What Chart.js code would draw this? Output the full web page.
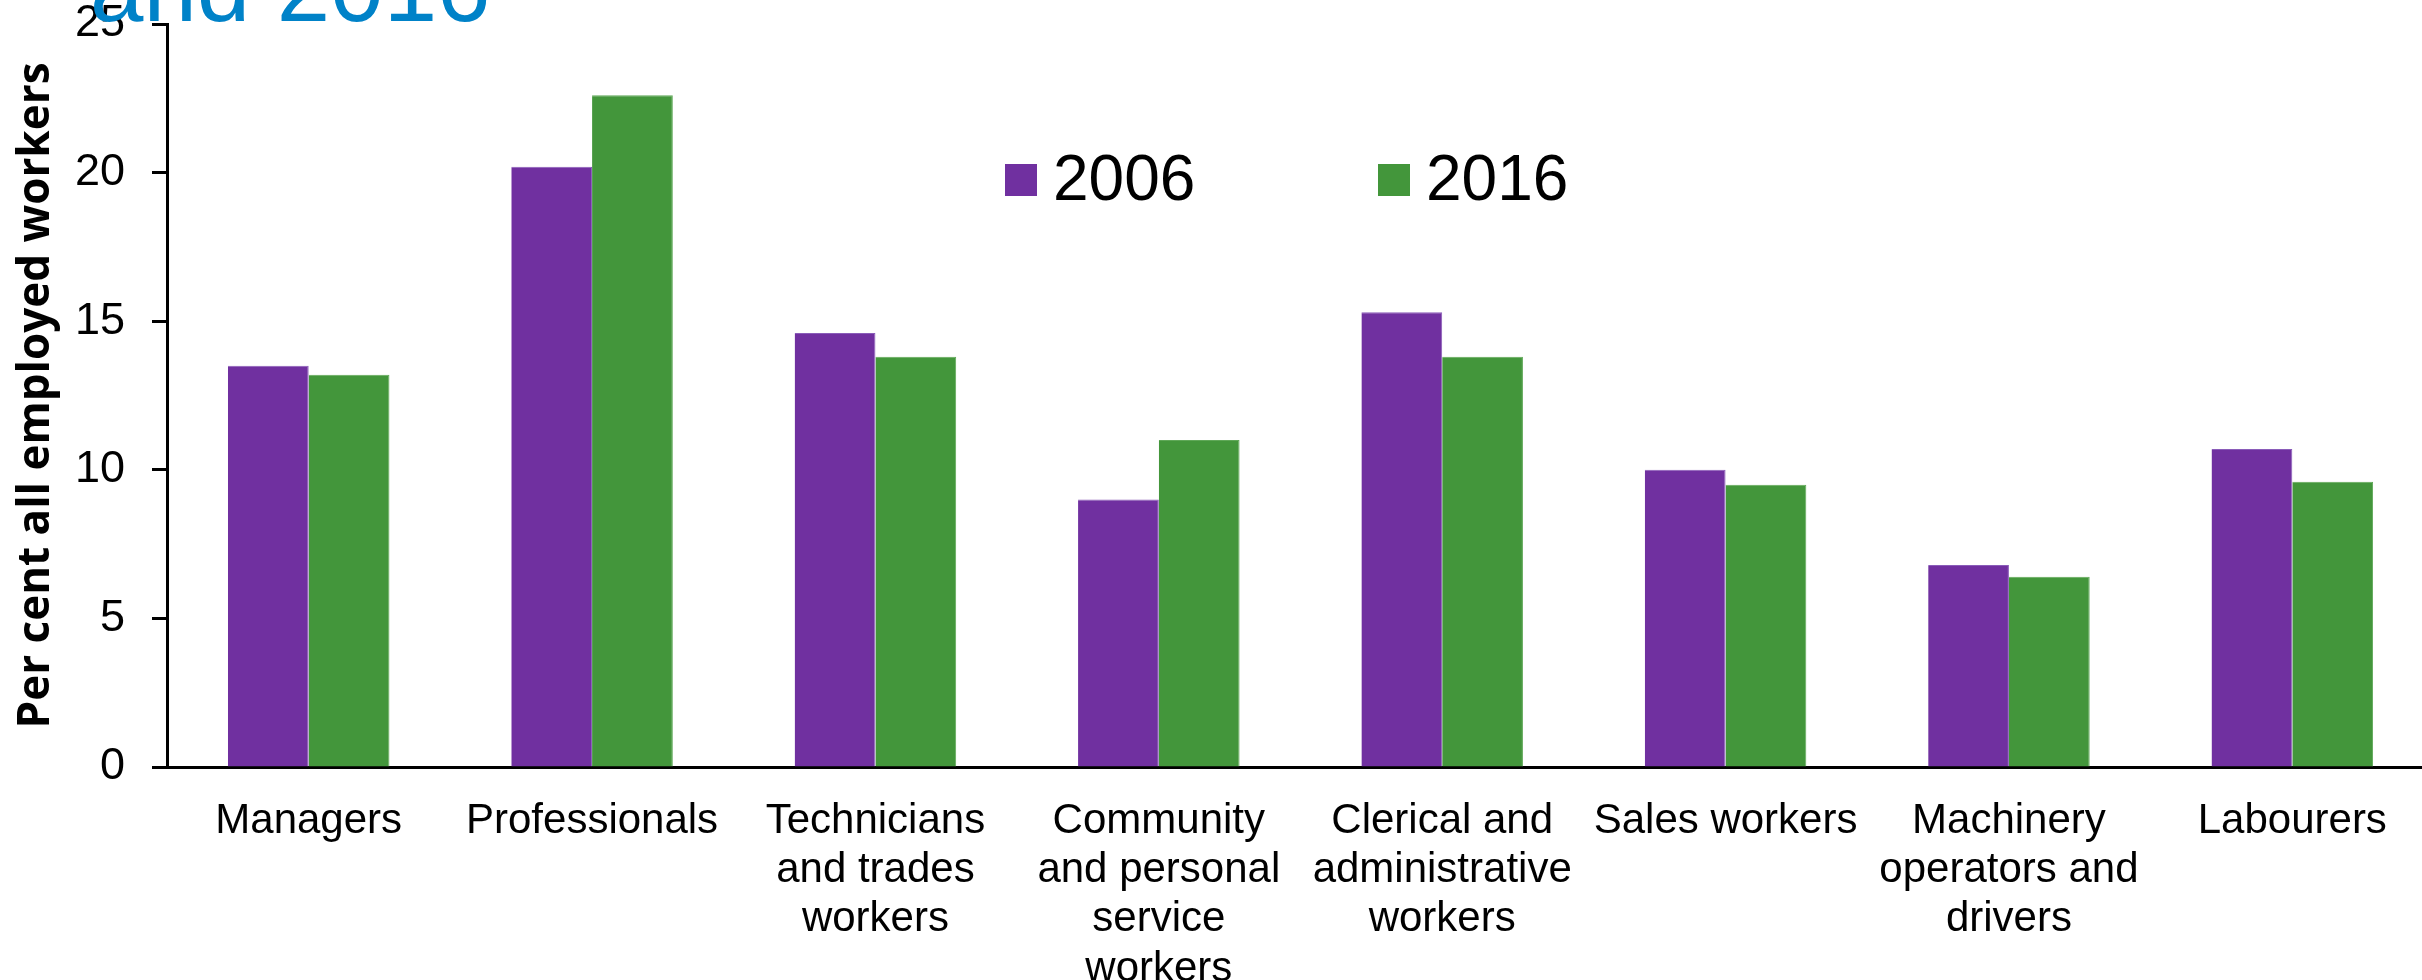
<!DOCTYPE html>
<html>
<head>
<meta charset="utf-8">
<script src="https://cdn.jsdelivr.net/npm/chart.js@4.4.1/dist/chart.umd.min.js"></script>
<style>
  html, body { margin: 0; padding: 0; background: #fff; overflow: hidden; }
  #wrap { width: 2434px; height: 980px; }
</style>
</head>
<body>
<div id="wrap"><canvas id="chart" width="2434" height="980"></canvas></div>
<script>
// occupation groups, share of all employed workers (%)
const categories = [
  'Managers',
  'Professionals',
  ['Technicians', 'and trades', 'workers'],
  ['Community', 'and personal', 'service', 'workers'],
  ['Clerical and', 'administrative', 'workers'],
  'Sales workers',
  ['Machinery', 'operators and', 'drivers'],
  'Labourers'
];
const years = ['2006', '2016'];
const share2006 = [13.5, 20.2, 14.6, 9.0, 15.3, 10.0, 6.8, 10.7];
const share2016 = [13.2, 22.6, 13.8, 11.0, 13.8, 9.5, 6.4, 9.6];
const yTicks = [0, 5, 10, 15, 20, 25];
const colours = ['#7030A0', '#43963B'];
const edges = ['#8A5CB9', '#5FA857'];

const SANS = '"Liberation Sans", Arial, sans-serif';

// the tail end of the slide heading, which runs off the top edge
const headingTail = {
  id: 'headingTail',
  afterDraw(chart) {
    const ctx = chart.ctx;
    ctx.save();
    ctx.font = '96px ' + SANS;
    ctx.fillStyle = '#0082C8';
    ctx.textBaseline = 'alphabetic';
    ctx.fillText('and 2016', 90, 21);
    ctx.restore();
  }
};

// legend sits inside the plot, to the right of the tallest bars
const floatingLegend = {
  id: 'floatingLegend',
  afterDraw(chart) {
    const ctx = chart.ctx;
    const spots = [1005, 1378];
    ctx.save();
    ctx.font = '64px ' + SANS;
    ctx.textBaseline = 'middle';
    chart.data.datasets.forEach((ds, i) => {
      const x = spots[i];
      ctx.fillStyle = ds.backgroundColor;
      ctx.fillRect(x, 164, 32, 32);
      ctx.fillStyle = '#000';
      ctx.fillText(ds.label, x + 48, 182);
    });
    ctx.restore();
  }
};

new Chart(document.getElementById('chart'), {
  type: 'bar',
  data: {
    labels: categories,
    datasets: [
      { label: years[0], data: share2006, backgroundColor: colours[0], borderColor: edges[0] },
      { label: years[1], data: share2016, backgroundColor: colours[1], borderColor: edges[1] }
    ]
  },
  options: {
    responsive: false,
    animation: false,
    layout: { padding: { top: 24, left: 0, right: 0, bottom: 0 } },
    datasets: {
      bar: {
        categoryPercentage: 0.57,
        barPercentage: 1.0,
        borderWidth: { top: 1, right: 1, left: 0, bottom: 0 }
      }
    },
    plugins: {
      legend: { display: false },
      tooltip: { enabled: false }
    },
    scales: {
      x: {
        afterFit(scale) { scale.height = 213; },
        grid: { display: true, drawOnChartArea: false, drawTicks: false },
        border: { display: true, color: '#000', width: 3 },
        ticks: {
          color: '#000',
          padding: 30,
          maxRotation: 0,
          autoSkip: false,
          font: { family: SANS, size: 42, lineHeight: 1.17 }
        }
      },
      y: {
        min: 0,
        max: 25,
        afterFit(scale) {
          scale.width = 167;
          // let the top tick label spill above the plot instead of shrinking it
          scale.paddingTop = 0;
          scale.paddingBottom = 0;
        },
        afterBuildTicks(scale) { scale.ticks = yTicks.map(v => ({ value: v })); },
        grid: {
          display: true,
          drawOnChartArea: false,
          drawTicks: true,
          tickLength: 15,
          tickWidth: 3,
          tickColor: '#000'
        },
        border: { display: true, color: '#000', width: 3 },
        ticks: {
          color: '#000',
          padding: 27,
          font: { family: SANS, size: 45 }
        },
        title: {
          display: true,
          text: 'Per cent all employed workers',
          color: '#000',
          padding: { top: 10, bottom: 0 },
          font: { family: '"Open Sans", sans-serif', size: 44, weight: 'bold', lineHeight: 1.2 }
        }
      }
    }
  },
  plugins: [headingTail, floatingLegend]
});
</script>
</body>
</html>
